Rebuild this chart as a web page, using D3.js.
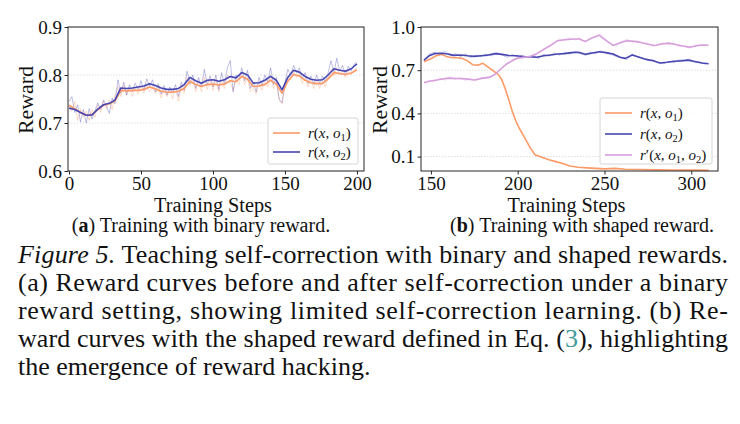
<!DOCTYPE html>
<html>
<head>
<meta charset="utf-8">
<script src="https://cdn.jsdelivr.net/npm/d3@7"></script>
<style>
  body { margin: 0; background: #fff; }
  svg { display: block; }
  text { font-family: "Liberation Serif", "Times New Roman", serif; fill: #111; }
</style>
</head>
<body>
<svg id="fig" width="740" height="424"></svg>
<script>
//// data

// (a) binary reward: raw traces, every 2 steps from 0 to 200
var rawStepsA = d3.range(0, 201, 2);
var rawO1A = [0.740,0.725,0.745,0.705,0.730,0.712,0.725,0.705,0.728,0.712,
  0.738,0.722,0.745,0.730,0.748,0.728,0.760,0.775,0.755,0.778,
  0.758,0.772,0.755,0.775,0.760,0.778,0.762,0.782,0.765,0.778,
  0.760,0.775,0.752,0.770,0.755,0.768,0.750,0.772,0.745,0.775,
  0.762,0.795,0.778,0.790,0.765,0.788,0.765,0.795,0.770,0.790,
  0.768,0.792,0.765,0.790,0.772,0.800,0.785,0.768,0.792,0.780,
  0.805,0.780,0.795,0.765,0.772,0.760,0.785,0.768,0.790,0.775,
  0.800,0.772,0.785,0.748,0.740,0.775,0.798,0.790,0.808,0.795,
  0.805,0.782,0.795,0.775,0.790,0.772,0.790,0.772,0.788,0.775,
  0.795,0.812,0.798,0.815,0.800,0.808,0.795,0.808,0.800,0.810,0.815];
var rawO2A = [0.745,0.755,0.722,0.738,0.702,0.728,0.700,0.730,0.708,0.725,
  0.742,0.728,0.748,0.735,0.720,0.752,0.740,0.790,0.762,0.785,
  0.758,0.780,0.765,0.783,0.770,0.788,0.768,0.792,0.776,0.790,
  0.765,0.782,0.760,0.778,0.758,0.775,0.762,0.780,0.755,0.785,
  0.768,0.808,0.782,0.800,0.772,0.795,0.775,0.812,0.780,0.798,
  0.775,0.800,0.770,0.805,0.780,0.815,0.830,0.765,0.800,0.790,
  0.815,0.788,0.810,0.772,0.785,0.765,0.795,0.778,0.800,0.785,
  0.815,0.780,0.795,0.750,0.742,0.785,0.812,0.800,0.820,0.805,
  0.815,0.792,0.805,0.782,0.798,0.780,0.800,0.782,0.798,0.785,
  0.805,0.830,0.805,0.835,0.808,0.820,0.800,0.818,0.808,0.822,0.828];

// (a) smoothed curves, every 4 steps from 0 to 200
var smoothStepsA = d3.range(0, 201, 4);
var smoothO1A = [0.737,0.730,0.722,0.716,0.718,0.728,0.737,0.740,0.746,0.768,
  0.767,0.768,0.768,0.770,0.775,0.771,0.766,0.764,0.764,0.766,
  0.772,0.787,0.780,0.776,0.780,0.781,0.779,0.781,0.788,0.786,
  0.797,0.791,0.776,0.777,0.780,0.789,0.781,0.762,0.787,0.801,
  0.798,0.789,0.784,0.782,0.782,0.792,0.805,0.803,0.801,0.804,0.811];
var smoothO2A = [0.731,0.728,0.722,0.716,0.717,0.729,0.738,0.741,0.748,0.773,
  0.772,0.773,0.775,0.777,0.782,0.778,0.773,0.770,0.770,0.772,
  0.780,0.795,0.788,0.783,0.789,0.790,0.787,0.790,0.797,0.794,
  0.805,0.800,0.783,0.784,0.789,0.797,0.789,0.769,0.795,0.810,
  0.806,0.797,0.791,0.789,0.790,0.800,0.813,0.810,0.808,0.813,0.823];

// (b) shaped reward: raw traces, every 3 steps from 146
var rawStepsB = d3.range(146, 310, 3);
var rawO2B = [0.765,0.812,0.825,0.808,0.830,0.800,0.815,0.795,0.812,0.788,
  0.805,0.795,0.812,0.800,0.822,0.805,0.790,0.810,0.790,0.805,
  0.785,0.800,0.782,0.810,0.798,0.820,0.805,0.825,0.812,0.830,
  0.815,0.805,0.825,0.815,0.835,0.815,0.808,0.795,0.785,0.775,
  0.812,0.795,0.785,0.770,0.772,0.752,0.745,0.760,0.752,0.772,
  0.765,0.778,0.755,0.758,0.742];
var rawShapedB = [0.605,0.632,0.620,0.645,0.630,0.655,0.635,0.650,0.628,0.645,
  0.625,0.650,0.640,0.655,0.680,0.720,0.745,0.770,0.790,0.778,
  0.800,0.790,0.825,0.840,0.870,0.890,0.918,0.905,0.925,0.910,
  0.925,0.895,0.918,0.935,0.950,0.912,0.880,0.865,0.900,0.915,
  0.895,0.905,0.885,0.890,0.865,0.880,0.890,0.878,0.885,0.865,
  0.870,0.852,0.872,0.880,0.868];

// (b) smoothed curves
var stepsO1B = [146,150,153,156,159,162,165,168,171,174,177,180,183,186,189,191,193,195,197,199,
  201,204,207,210,214,218,222,226,230,235,240,245,250,256,262,270,280,290,300,310];
var smoothO1B = [0.758,0.780,0.800,0.810,0.795,0.787,0.786,0.782,0.765,0.738,0.735,0.748,0.722,0.695,0.668,0.630,0.565,0.490,0.410,0.345,
  0.295,0.232,0.165,0.112,0.095,0.078,0.065,0.052,0.035,0.026,0.022,0.018,0.015,0.018,0.012,0.010,0.008,0.007,0.006,0.005];
var stepsO2B = [146,149,152,156,160,163,167,171,175,179,183,187,191,195,199,203,207,211,215,219,223,
  227,231,235,239,243,247,251,255,259,262,266,270,274,278,282,286,290,294,298,302,306,310];
var smoothO2B = [0.770,0.800,0.815,0.818,0.812,0.803,0.806,0.800,0.796,0.800,0.805,0.815,0.810,0.802,0.800,0.795,0.793,0.790,0.800,0.806,0.812,
  0.815,0.822,0.825,0.810,0.820,0.828,0.822,0.812,0.790,0.782,0.805,0.790,0.775,0.765,0.750,0.755,0.762,0.765,0.770,0.760,0.750,0.745];
var stepsShapedB = [146,150,155,160,165,170,175,180,184,187,190,193,196,199,203,207,211,215,219,223,227,
  231,235,239,243,247,251,255,259,263,267,271,275,279,283,287,291,295,299,303,307,310];
var smoothShapedB = [0.615,0.625,0.635,0.645,0.642,0.640,0.632,0.645,0.652,0.672,0.705,0.738,0.760,0.780,0.790,0.795,0.815,0.845,0.872,0.905,0.912,
  0.915,0.918,0.900,0.925,0.942,0.905,0.872,0.890,0.905,0.900,0.892,0.880,0.872,0.882,0.888,0.878,0.868,0.860,0.870,0.875,0.873];

var ticksXA = [0, 50, 100, 150, 200],
    ticksYA = [0.6, 0.7, 0.8, 0.9],
    ticksXB = [150, 200, 250, 300],
    ticksYB = [0.1, 0.4, 0.7, 1.0];

var captionLines = [
  "Teaching self-correction with binary and shaped rewards.",
  "(a) Reward curves before and after self-correction under a binary",
  "reward setting, showing limited self-correction learning. (b) Re-",
  "ward curves with the shaped reward defined in Eq. (",
  "the emergence of reward hacking."
];

//// colours
var orange = "#fd9a68",
    blue = "#4747b2",
    violet = "#d79fdb";

var svg = d3.select("svg#fig");

function zip(xs, ys) {
  return xs.map(function(x, i) { return [x, ys[i]]; });
}

function panel(o) {
  var x = d3.scaleLinear().domain(o.xdom).range([o.left, o.right]);
  var y = d3.scaleLinear().domain(o.ydom).range([171, 27]);
  var g = svg.append("g");

  // grid
  g.selectAll(".grid")
    .data(o.yticks)
    .enter().append("line")
    .attr("x1", o.left).attr("x2", o.right)
    .attr("y1", function(d) { return y(d); })
    .attr("y2", function(d) { return y(d); })
    .attr("stroke", "#d8d8d8")
    .attr("stroke-width", 0.8)
    .attr("stroke-dasharray", "1.5,1.5");

  var line = d3.line()
    .x(function(d) { return x(d[0]); })
    .y(function(d) { return y(d[1]); });

  o.series.forEach(function(s) {
    g.append("path")
      .attr("d", line(s.data))
      .attr("fill", "none")
      .attr("stroke", s.color)
      .attr("stroke-width", s.raw ? 1 : 1.6)
      .attr("stroke-opacity", s.raw ? 0.35 : 1)
      .attr("stroke-linejoin", "round");
  });

  // frame
  g.append("rect")
    .attr("x", o.left).attr("y", 27)
    .attr("width", o.right - o.left).attr("height", 144)
    .attr("fill", "none")
    .attr("stroke", "#262626")
    .attr("stroke-width", 1);

  // axes
  var xAxis = d3.axisBottom(x).tickValues(o.xticks).tickSize(3.5).tickPadding(2)
    .tickFormat(d3.format("d"));
  var gx = g.append("g").attr("transform", "translate(0,171)").call(xAxis);
  var yAxis = d3.axisLeft(y).tickValues(o.yticks).tickSize(3.5).tickPadding(2.5)
    .tickFormat(d3.format(".1f"));
  var gy = g.append("g").attr("transform", "translate(" + o.left + ",0)").call(yAxis);
  [gx, gy].forEach(function(a) {
    a.attr("font-family", "Liberation Serif").attr("font-size", 19);
    a.select(".domain").remove();
    a.selectAll("line").attr("stroke", "#262626");
    a.selectAll("text").attr("fill", "#111");
  });

  // labels (the original face is wider than Times, so stretch to its width)
  g.append("text")
    .attr("x", (o.left + o.right) / 2 - 62).attr("y", 212)
    .attr("textLength", 118).attr("lengthAdjust", "spacingAndGlyphs")
    .style("font-size", "20px")
    .text("Training Steps");
  g.append("text")
    .attr("transform", "translate(" + o.ylabX + ",134) rotate(-90)")
    .attr("textLength", 68).attr("lengthAdjust", "spacingAndGlyphs")
    .style("font-size", "20px")
    .text("Reward");
  var sub = g.append("text")
    .attr("x", o.subX).attr("y", 232)
    .attr("text-anchor", "middle")
    .style("font-size", "20px");
  sub.append("tspan").text("(");
  sub.append("tspan").attr("font-weight", "bold").text(o.letter);
  sub.append("tspan").text(") " + o.subtitle);

  // legend
  var lg = g.append("g");
  lg.append("rect")
    .attr("x", o.leg.x).attr("y", o.leg.y)
    .attr("width", o.leg.w).attr("height", o.leg.h)
    .attr("rx", 2)
    .attr("fill", "#fff").attr("fill-opacity", 0.85)
    .attr("stroke", "#cccccc").attr("stroke-width", 0.8);
  o.legend.forEach(function(e, i) {
    var ly = o.leg.y + 15 + i * o.leg.dy;
    lg.append("line")
      .attr("x1", o.leg.x + 5).attr("x2", o.leg.x + 32)
      .attr("y1", ly).attr("y2", ly)
      .attr("stroke", e.color).attr("stroke-width", 1.6);
    var t = lg.append("text")
      .attr("x", o.leg.x + 40).attr("y", ly + 5)
      .style("font-size", "15px");
    e.parts.forEach(function(p) {
      var ts = t.append("tspan").text(p[0]);
      if (p[1] === "i") ts.attr("font-style", "italic");
      if (p[1] === "s") ts.attr("font-size", "10.5px").attr("baseline-shift", "-3");
    });
  });
}

function lbl(sub) {
  return [["r", "i"], ["(", ""], ["x", "i"], [", ", ""], ["o", "i"], [sub, "s"], [")", ""]];
}

panel({
  left: 68, right: 364, xdom: [-0.7, 204.9], ydom: [0.6, 0.9],
  xticks: ticksXA, yticks: ticksYA, ylabX: 33, subX: 201,
  letter: "a", subtitle: "Training with binary reward.",
  series: [
    {color: orange, raw: true, data: zip(rawStepsA, rawO1A)},
    {color: blue, raw: true, data: zip(rawStepsA, rawO2A)},
    {color: orange, data: zip(smoothStepsA, smoothO1A)},
    {color: blue, data: zip(smoothStepsA, smoothO2A)}
  ],
  leg: {x: 268, y: 118, w: 90, h: 46, dy: 19},
  legend: [{color: orange, parts: lbl("1")}, {color: blue, parts: lbl("2")}]
});

panel({
  left: 421, right: 718, xdom: [144.3, 315.4], ydom: [0, 1.0],
  xticks: ticksXB, yticks: ticksYB, ylabX: 387, subX: 582,
  letter: "b", subtitle: "Training with shaped reward.",
  series: [
    {color: blue, raw: true, data: zip(rawStepsB, rawO2B)},
    {color: violet, raw: true, data: zip(rawStepsB, rawShapedB)},
    {color: orange, data: zip(stepsO1B, smoothO1B)},
    {color: blue, data: zip(stepsO2B, smoothO2B)},
    {color: violet, data: zip(stepsShapedB, smoothShapedB)}
  ],
  leg: {x: 600, y: 98, w: 112, h: 66, dy: 21},
  legend: [
    {color: orange, parts: lbl("1")},
    {color: blue, parts: lbl("2")},
    {color: violet, parts: [["r", "i"], ["\u2032", ""], ["(", ""], ["x", "i"], [", ", ""], ["o", "i"], ["1", "s"],
                            [", ", ""], ["o", "i"], ["2", "s"], [")", ""]]}
  ]
});

//// caption, justified between x = 18 and 728
var cap = svg.append("g");
captionLines.forEach(function(s, i) {
  var t = cap.append("text")
    .attr("x", 18).attr("y", 263 + i * 28)
    .style("font-size", "26px");
  if (i === 0) {
    t.append("tspan").attr("font-style", "italic").text("Figure 5.");
    t.append("tspan").text(" " + s);
  } else if (i === 3) {
    t.append("tspan").text(s);
    t.append("tspan").attr("fill", "#3f9a9a").text("3");
    t.append("tspan").text("), highlighting");
  } else {
    t.text(s);
  }
  if (i < 4) t.attr("textLength", 710).attr("lengthAdjust", "spacing");
});
</script>
</body>
</html>
